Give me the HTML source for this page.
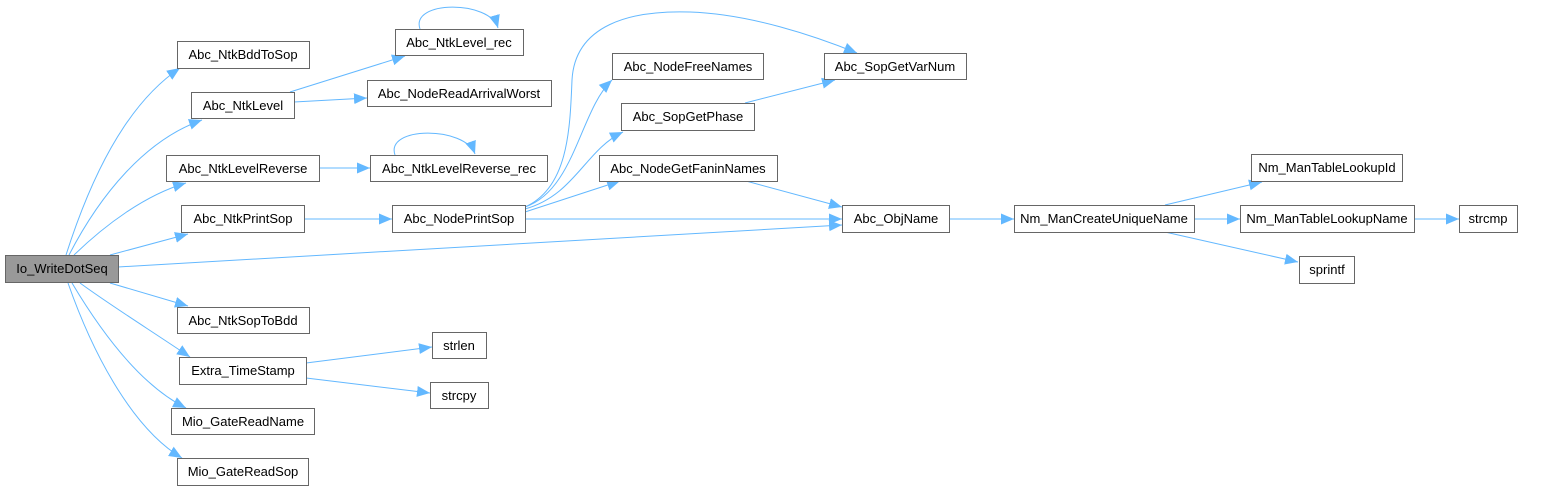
<!DOCTYPE html>
<html><head><meta charset="utf-8"><style>
html,body{margin:0;padding:0;background:#fff;}
svg text{font-family:"Liberation Sans",Arial,sans-serif;font-size:13px;fill:#000;}
</style></head><body>
<svg width="1549" height="491" viewBox="0 0 1549 491" xmlns="http://www.w3.org/2000/svg">
<defs>
<marker id="a" viewBox="0 0 10 10" refX="10" refY="5" markerWidth="13" markerHeight="13" markerUnits="userSpaceOnUse" orient="auto">
<path d="M0,0.8 L10,5 L0,9.2 z" fill="#63b8ff"/>
</marker>
</defs>
<g fill="none" stroke="#63b8ff" stroke-width="1" marker-end="url(#a)">
<path d="M66,255 C90,180 125,105 180,68"/>
<path d="M69,255 C100,195 145,140 202,120"/>
<path d="M74,255 C105,225 145,195 186,183"/>
<path d="M110,255 L188,234"/>
<path d="M118,267 L842,225"/>
<path d="M110,283 L188,306"/>
<path d="M80,283 C110,305 150,330 190,357"/>
<path d="M72,283 C100,330 140,385 186,408"/>
<path d="M68,283 C95,360 135,430 182,458"/>
<path d="M290,92 L405,56"/>
<path d="M294,102 L367,98"/>
<path d="M420,29 C410,0 490,0 498,28"/>
<path d="M319,168 L370,168"/>
<path d="M395,155 C385,126 465,126 475,154"/>
<path d="M304,219 L392,219"/>
<path d="M525,207 C568,188 570,130 572,80 C575,25 630,10 690,12 C750,14 815,36 857,53"/>
<path d="M525,207 C575,190 580,110 612,80"/>
<path d="M525,209 C575,195 585,150 623,132"/>
<path d="M525,212 L620,181"/>
<path d="M525,219 L842,219"/>
<path d="M745,103 L835,80"/>
<path d="M746,181 L842,207"/>
<path d="M949,219 L1014,219"/>
<path d="M1165,205 L1262,182"/>
<path d="M1194,219 L1240,219"/>
<path d="M1165,232 L1298,262"/>
<path d="M1414,219 L1459,219"/>
<path d="M306,363 L432,347"/>
<path d="M306,378 L430,393"/>
</g>
<g fill="#fff" stroke="#666" stroke-width="1">
<rect x="5.5" y="255.5" width="113" height="27" fill="#999"/>
<rect x="177.5" y="41.5" width="132" height="27"/>
<rect x="191.5" y="92.5" width="103" height="26"/>
<rect x="395.5" y="29.5" width="128" height="26"/>
<rect x="367.5" y="80.5" width="184" height="26"/>
<rect x="166.5" y="155.5" width="153" height="26"/>
<rect x="370.5" y="155.5" width="177" height="26"/>
<rect x="181.5" y="205.5" width="123" height="27"/>
<rect x="392.5" y="205.5" width="133" height="27"/>
<rect x="177.5" y="307.5" width="132" height="26"/>
<rect x="179.5" y="357.5" width="127" height="27"/>
<rect x="432.5" y="332.5" width="54" height="26"/>
<rect x="430.5" y="382.5" width="58" height="26"/>
<rect x="171.5" y="408.5" width="143" height="26"/>
<rect x="177.5" y="458.5" width="131" height="27"/>
<rect x="612.5" y="53.5" width="151" height="26"/>
<rect x="824.5" y="53.5" width="142" height="26"/>
<rect x="621.5" y="103.5" width="133" height="27"/>
<rect x="599.5" y="155.5" width="178" height="26"/>
<rect x="842.5" y="205.5" width="107" height="27"/>
<rect x="1014.5" y="205.5" width="180" height="27"/>
<rect x="1251.5" y="154.5" width="151" height="27"/>
<rect x="1240.5" y="205.5" width="174" height="27"/>
<rect x="1459.5" y="205.5" width="58" height="27"/>
<rect x="1299.5" y="256.5" width="55" height="27"/>
</g>
<g text-anchor="middle">
<text x="62" y="273">Io_WriteDotSeq</text>
<text x="243" y="59">Abc_NtkBddToSop</text>
<text x="243" y="110">Abc_NtkLevel</text>
<text x="459" y="47">Abc_NtkLevel_rec</text>
<text x="459" y="98">Abc_NodeReadArrivalWorst</text>
<text x="243" y="173">Abc_NtkLevelReverse</text>
<text x="459" y="173">Abc_NtkLevelReverse_rec</text>
<text x="243" y="223">Abc_NtkPrintSop</text>
<text x="459" y="223">Abc_NodePrintSop</text>
<text x="243" y="325">Abc_NtkSopToBdd</text>
<text x="243" y="375">Extra_TimeStamp</text>
<text x="459" y="350">strlen</text>
<text x="459" y="400">strcpy</text>
<text x="243" y="426">Mio_GateReadName</text>
<text x="243" y="476">Mio_GateReadSop</text>
<text x="688" y="71">Abc_NodeFreeNames</text>
<text x="895" y="71">Abc_SopGetVarNum</text>
<text x="688" y="121">Abc_SopGetPhase</text>
<text x="688" y="173">Abc_NodeGetFaninNames</text>
<text x="896" y="223">Abc_ObjName</text>
<text x="1104" y="223">Nm_ManCreateUniqueName</text>
<text x="1327" y="172">Nm_ManTableLookupId</text>
<text x="1327" y="223">Nm_ManTableLookupName</text>
<text x="1488" y="223">strcmp</text>
<text x="1327" y="274">sprintf</text>
</g>
</svg>
</body></html>
